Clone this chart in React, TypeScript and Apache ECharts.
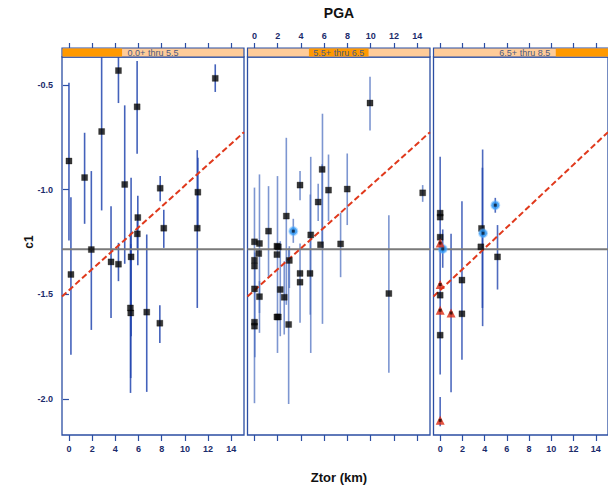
import { useEffect, useRef } from "react";
import * as echarts from "echarts";

// ---- axis ticks and panel labels ----
const ztorTicks = [0, 2, 4, 6, 8, 10, 12, 14];
const c1Ticks = [-0.5, -1.0, -1.5, -2.0];
const magBins = ["0.0+ thru 5.5", "5.5+ thru 6.5", "6.5+ thru 8.5"];

// reference levels shared by all panels
const meanC1 = -1.285;
const trendZtor = [-0.6, 15.1];
const trendC1 = [-1.51, -0.725];

// ---- panel 1: M 0.0+ thru 5.5 ----
const lowSquares: [number, number][] = [
  [0.0, -0.863], [0.17, -1.405], [1.35, -0.942], [1.93, -1.286], [2.82, -0.722],
  [3.63, -1.345], [4.27, -0.431], [4.27, -1.356], [4.81, -0.975], [5.88, -0.604],
  [5.36, -1.321], [5.3, -1.565], [5.33, -1.589], [5.94, -1.133], [5.9, -1.211],
  [6.71, -1.585], [7.87, -0.993], [8.18, -1.184], [7.84, -1.638], [11.12, -1.012],
  [11.07, -1.184], [12.62, -0.468],
];
const lowBars: [number, number, number][] = [
  [0.0, -1.243, -0.489], [0.17, -1.788, -1.036], [1.35, -1.163, -0.728], [1.93, -1.67, -0.911],
  [2.82, -1.099, -0.3], [3.63, -1.613, -1.079], [4.27, -0.586, -0.3], [4.27, -1.437, -1.254],
  [4.81, -1.354, -0.597], [5.88, -0.828, -0.385], [5.36, -1.7, -0.943], [5.31, -1.971, -1.206],
  [5.33, -1.9, -1.26], [5.94, -1.361, -1.029], [5.9, -1.28, -1.15], [6.71, -1.966, -1.214],
  [7.87, -1.055, -0.935], [8.18, -1.278, -1.096], [7.84, -1.732, -1.552], [11.12, -1.182, -0.847],
  [11.07, -1.565, -0.811], [12.62, -0.533, -0.401],
];

// ---- panel 2: M 5.5+ thru 6.5 ----
const midSquares: [number, number][] = [
  [0.0, -1.249], [0.0, -1.337], [0.0, -1.365], [0.0, -1.474], [0.0, -1.633], [0.0, -1.652],
  [0.43, -1.257], [0.37, -1.305], [0.43, -1.511], [1.21, -1.198], [1.93, -1.27], [2.05, -1.273],
  [1.93, -1.31], [1.93, -1.608], [2.05, -1.608], [2.22, -1.477], [2.56, -1.514], [2.74, -1.126],
  [3.0, -1.338], [2.94, -1.644], [3.92, -0.978], [3.92, -1.4], [3.92, -1.442], [4.78, -1.4],
  [4.84, -1.216], [5.48, -1.059], [5.82, -0.903], [5.68, -1.263], [6.37, -1.002], [7.41, -1.259],
  [7.98, -0.997], [9.94, -0.586], [11.56, -1.496], [14.47, -1.015],
];
const midCircles: [number, number][] = [[3.34, -1.198]];
const midBars: [number, number, number][] = [
  [0.0, -2.02, -0.99], [0.03, -1.8, -1.3], [0.43, -1.684, -0.927], [0.43, -1.589, -1.437],
  [1.21, -1.421, -0.983], [1.98, -1.78, -0.935], [2.22, -1.7, -1.246], [2.56, -1.692, -1.342],
  [2.74, -1.55, -0.752], [3.0, -1.47, -1.27], [2.94, -2.024, -1.28], [3.34, -1.254, -1.139],
  [3.92, -1.05, -0.911], [3.92, -1.636, -1.257], [4.8, -1.597, -1.023], [4.84, -1.78, -0.843],
  [5.48, -1.15, -0.972], [5.82, -1.262, -0.879], [5.85, -1.641, -0.637], [6.37, -1.15, -0.832],
  [7.41, -1.418, -1.11], [7.98, -1.169, -0.827], [9.94, -0.717, -0.46], [11.56, -1.875, -1.122],
  [14.47, -1.058, -0.978],
];

// ---- panel 3: M 6.5+ thru 8.5 ----
const highSquares: [number, number][] = [
  [0.0, -1.112], [0.0, -1.131], [0.0, -1.227], [0.0, -1.504], [0.0, -1.695],
  [1.96, -1.432], [1.96, -1.593], [3.72, -1.185], [3.66, -1.273], [5.16, -1.321],
];
const highCircles: [number, number][] = [[0.23, -1.283], [3.86, -1.208], [4.96, -1.074]];
const highTriangles: [number, number][] = [
  [0.0, -1.255], [0.0, -1.453], [0.0, -1.576], [0.0, -2.102], [0.98, -1.589],
];
const highBars: [number, number, number][] = [
  [0.0, -1.883, -0.843], [0.0, -2.13, -1.99], [0.23, -1.373, -1.19], [0.98, -1.968, -1.211],
  [1.96, -1.812, -1.055], [3.8, -1.565, -0.895], [3.82, -1.652, -0.808], [4.96, -1.11, -1.039],
  [5.16, -1.477, -1.169],
];

const FRAME = "#2b4ea3";
const LABEL_FONT = "Liberation Sans, Arial, sans-serif";
const X_MIN = -0.6;
const X_MAX = 15.1;
const Y_MIN = -2.172;
const Y_MAX = -0.366;

const tickLabel = {
  fontFamily: LABEL_FONT,
  fontWeight: "bold" as const,
  fontSize: 9,
  color: "#1b2b6b",
};

// panel geometry: [left, width]
const panels: [number, number][] = [
  [62, 182],
  [247.5, 182.5],
  [433.5, 182.5],
];
const PANEL_TOP = 57;
const PANEL_H = 378;
const STRIP_H = 9;

function errorBarSeries(data: [number, number, number][], i: number, color: string) {
  return {
    type: "custom",
    xAxisIndex: i * 2,
    yAxisIndex: i,
    clip: true,
    silent: true,
    z: 1,
    data,
    encode: { x: 0, y: [1, 2] },
    renderItem: (_p: any, api: any) => {
      const x = api.value(0);
      const a = api.coord([x, api.value(1)]);
      const b = api.coord([x, api.value(2)]);
      return {
        type: "line",
        shape: { x1: a[0], y1: a[1], x2: b[0], y2: b[1] },
        style: { stroke: color, lineWidth: 1.6 },
      };
    },
  };
}

function refLines(i: number) {
  return [
    {
      type: "line",
      xAxisIndex: i * 2,
      yAxisIndex: i,
      data: [
        [trendZtor[0], meanC1],
        [trendZtor[1], meanC1],
      ],
      symbol: "none",
      silent: true,
      z: 2,
      lineStyle: { color: "#7a7a7a", width: 2 },
    },
    {
      type: "line",
      xAxisIndex: i * 2,
      yAxisIndex: i,
      data: [
        [trendZtor[0], trendC1[0]],
        [trendZtor[1], trendC1[1]],
      ],
      symbol: "none",
      silent: true,
      z: 3,
      lineStyle: { color: "#e0391c", width: 2, type: [6, 3] },
    },
  ];
}

function squares(data: [number, number][], i: number) {
  return {
    type: "scatter",
    xAxisIndex: i * 2,
    yAxisIndex: i,
    data,
    symbol: "rect",
    symbolSize: 6,
    z: 5,
    itemStyle: { color: "#050505", borderColor: "rgba(0,0,0,0.35)", borderWidth: 1 },
  };
}

function circles(data: [number, number][], i: number) {
  return [
    {
      type: "scatter",
      xAxisIndex: i * 2,
      yAxisIndex: i,
      data,
      symbol: "circle",
      symbolSize: 8,
      z: 6,
      itemStyle: { color: "#1f8ff0", borderColor: "rgba(90,175,255,0.55)", borderWidth: 2 },
    },
    {
      type: "scatter",
      xAxisIndex: i * 2,
      yAxisIndex: i,
      data,
      symbol: "rect",
      symbolSize: 3,
      z: 7,
      itemStyle: { color: "#0a1a30" },
    },
  ];
}

function triangles(data: [number, number][], i: number) {
  return [
    {
      type: "scatter",
      xAxisIndex: i * 2,
      yAxisIndex: i,
      data,
      symbol: "triangle",
      symbolSize: 9,
      z: 6,
      itemStyle: { color: "#dd2a12" },
    },
    {
      type: "scatter",
      xAxisIndex: i * 2,
      yAxisIndex: i,
      data,
      symbol: "rect",
      symbolSize: 3,
      z: 7,
      itemStyle: { color: "#2a0a05" },
    },
  ];
}

export default function App() {
  const ref = useRef<HTMLDivElement>(null);

  useEffect(() => {
    if (!ref.current) return;
    const chart = echarts.init(ref.current, null, { renderer: "svg" });

    const grid = panels.map(([left, width]) => ({
      left,
      top: PANEL_TOP,
      width,
      height: PANEL_H,
      show: true,
      borderColor: FRAME,
      borderWidth: 1.3,
      backgroundColor: "transparent",
      containLabel: false,
    }));

    const xAxis: any[] = [];
    panels.forEach((_, i) => {
      xAxis.push({
        gridIndex: i,
        type: "value",
        min: X_MIN,
        max: X_MAX,
        position: "bottom",
        axisLine: { show: false },
        splitLine: { show: false },
        axisTick: { show: true, length: 6, lineStyle: { color: FRAME, width: 1.2 }, customValues: ztorTicks },
        axisLabel: { show: i !== 1, margin: 9, customValues: ztorTicks, ...tickLabel },
      });
      xAxis.push({
        gridIndex: i,
        type: "value",
        min: X_MIN,
        max: X_MAX,
        position: "top",
        offset: STRIP_H,
        axisLine: { show: false },
        splitLine: { show: false },
        axisTick: { show: true, length: 5, lineStyle: { color: FRAME, width: 1.2 }, customValues: ztorTicks },
        axisLabel: { show: i === 1, margin: 8, customValues: ztorTicks, ...tickLabel },
      });
    });

    const yAxis = panels.map((_, i) => ({
      gridIndex: i,
      type: "value",
      min: Y_MIN,
      max: Y_MAX,
      axisLine: { show: false },
      splitLine: { show: false },
      axisTick: { show: i === 0, length: 6, lineStyle: { color: FRAME, width: 1.2 }, customValues: c1Ticks },
      axisLabel: {
        show: i === 0,
        margin: 9,
        customValues: c1Ticks,
        formatter: (v: number) => v.toFixed(1),
        ...tickLabel,
      },
    }));

    // strips above each panel: light band, darker third marking the bin
    const strips: any[] = [];
    panels.forEach(([left, width], i) => {
      const third = width / 3;
      strips.push({
        type: "rect",
        shape: { x: left, y: PANEL_TOP - STRIP_H, width, height: STRIP_H },
        style: { fill: "#ffcc99", stroke: FRAME, lineWidth: 1.2 },
        z: 10,
      });
      strips.push({
        type: "rect",
        shape: { x: left + third * i + 0.6, y: PANEL_TOP - STRIP_H + 0.6, width: third - 1.2, height: STRIP_H - 1.2 },
        style: { fill: "#ff9900" },
        z: 11,
      });
      strips.push({
        type: "text",
        x: left + width / 2,
        y: PANEL_TOP - STRIP_H / 2,
        style: {
          text: magBins[i],
          font: `9px ${LABEL_FONT}`,
          fill: "#4a5a80",
          textAlign: "center",
          textVerticalAlign: "middle",
        },
        z: 12,
      });
    });

    const titles = [
      {
        type: "text",
        x: 339,
        y: 13,
        style: {
          text: "PGA",
          font: `bold 14px ${LABEL_FONT}`,
          fill: "#111",
          textAlign: "center",
          textVerticalAlign: "middle",
        },
      },
      {
        type: "text",
        x: 339,
        y: 477,
        style: {
          text: "Ztor (km)",
          font: `bold 13px ${LABEL_FONT}`,
          fill: "#111",
          textAlign: "center",
          textVerticalAlign: "middle",
        },
      },
      {
        type: "text",
        x: 29,
        y: 242,
        rotation: Math.PI / 2,
        style: {
          text: "c1",
          font: `bold 12px ${LABEL_FONT}`,
          fill: "#111",
          textAlign: "center",
          textVerticalAlign: "middle",
        },
      },
    ];

    const series: any[] = [
      errorBarSeries(lowBars, 0, "rgba(35,70,175,0.85)"),
      errorBarSeries(midBars, 1, "rgba(70,105,190,0.7)"),
      errorBarSeries(highBars, 2, "rgba(35,70,175,0.8)"),
      ...refLines(0),
      ...refLines(1),
      ...refLines(2),
      squares(lowSquares, 0),
      squares(midSquares, 1),
      ...circles(midCircles, 1),
      squares(highSquares, 2),
      ...circles(highCircles, 2),
      ...triangles(highTriangles, 2),
    ];

    chart.setOption({
      animation: false,
      backgroundColor: "#ffffff",
      grid,
      xAxis,
      yAxis,
      series,
      graphic: [...strips, ...titles],
    });

    return () => chart.dispose();
  }, []);

  return (
    <div
      ref={ref}
      style={{ position: "fixed", left: 0, top: 0, width: 608, height: 485 }}
    />
  );
}
